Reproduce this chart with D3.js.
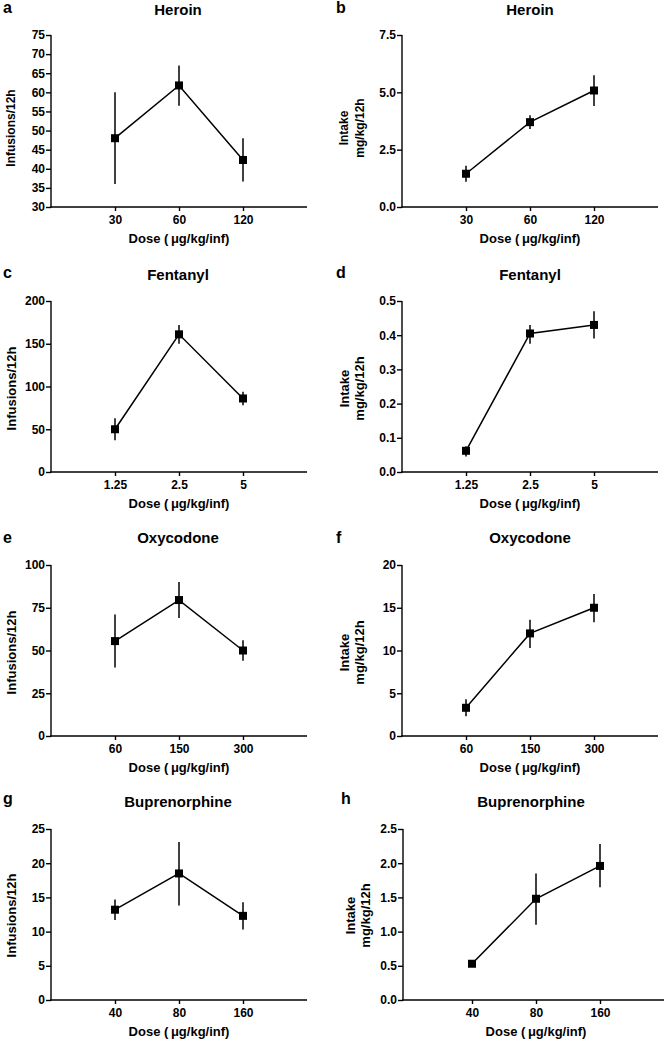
<!DOCTYPE html>
<html>
<head>
<meta charset="utf-8">
<script src="https://cdn.jsdelivr.net/npm/d3@7"></script>
<style>
  html, body { margin: 0; padding: 0; background: #fff; }
  svg text { font-family: "Liberation Sans", Arial, Helvetica, sans-serif; font-weight: bold; fill: #000; }
</style>
</head>
<body>
<svg id="chart" width="668" height="1043"></svg>
<script>
// ---------------- DATA ----------------
const drugs = ["Heroin", "Fentanyl", "Oxycodone", "Buprenorphine"];
const doseLabels = [
  ["30", "60", "120"],
  ["1.25", "2.5", "5"],
  ["60", "150", "300"],
  ["40", "80", "160"]
];
// Infusions / 12h (left column)
const infusionsMean = [[48, 61.8, 42.3], [50, 161, 86], [55.5, 79.5, 50], [13.2, 18.5, 12.3]];
const infusionsLow  = [[36, 56.5, 36.7], [37, 150, 78], [40, 69, 44], [11.7, 13.8, 10.3]];
const infusionsHigh = [[60, 67, 48], [63, 172, 94], [71, 90, 56], [14.7, 23.1, 14.3]];
// Intake mg/kg/12h (right column)
const intakeMean = [[1.45, 3.7, 5.08], [0.062, 0.405, 0.43], [3.3, 12, 15], [0.53, 1.48, 1.96]];
const intakeLow  = [[1.1, 3.4, 4.4], [0.045, 0.375, 0.39], [2.3, 10.3, 13.3], [0.5, 1.1, 1.65]];
const intakeHigh = [[1.8, 4.0, 5.75], [0.075, 0.43, 0.47], [4.3, 13.6, 16.6], [0.56, 1.85, 2.28]];
// Tick labels
const infusionsTicks = [[30, 35, 40, 45, 50, 55, 60, 65, 70, 75], [0, 50, 100, 150, 200], [0, 25, 50, 75, 100], [0, 5, 10, 15, 20, 25]];
const intakeTicks = [[0, 2.5, 5.0, 7.5], [0, 0.1, 0.2, 0.3, 0.4, 0.5], [0, 5, 10, 15, 20], [0, 0.5, 1.0, 1.5, 2.0, 2.5]];
const intakeTickFormat = [".1f", ".1f", "d", ".1f"];
const panelLetters = [["a", "b"], ["c", "d"], ["e", "f"], ["g", "h"]];
const xTitle = "Dose (\u2009\u03bcg/kg/inf)";
const yTitleLeft = "Infusions/12h";
const yTitleRight = ["Intake", "mg/kg/12h"];

// ---------------- LAYOUT ----------------
const rows = [
  { top: 35, bot: 207, titleY: 15, letterY: 13, yTitleShift: 7, ytFont: 12 },
  { top: 301, bot: 472, titleY: 280, letterY: 278, yTitleShift: 2, ytFont: 13 },
  { top: 565, bot: 736, titleY: 543, letterY: 543, yTitleShift: 2, ytFont: 13 },
  { top: 829, bot: 1000, titleY: 807, letterY: 804, yTitleShift: 1, ytFont: 13 }
];
const cols = [
  { ax: 51, sx: 51, letterX: 3, titleX: 178 },
  { ax: 402, sx: 402, letterX: 336, titleX: 530 }
];

const svg = d3.select("#chart");

function panel(r, c) {
  const row = rows[r];
  let col = Object.assign({}, cols[c]);
  if (r === 3 && c === 1) { col.ax = 403; col.sx = 408; col.letterX = 341; col.titleX = 531; }
  const mean = c === 0 ? infusionsMean[r] : intakeMean[r];
  const lo = c === 0 ? infusionsLow[r] : intakeLow[r];
  const hi = c === 0 ? infusionsHigh[r] : intakeHigh[r];
  const ticks = c === 0 ? infusionsTicks[r] : intakeTicks[r];
  const fmt = c === 0 ? d3.format("d") : d3.format(intakeTickFormat[r]);

  const x = d3.scaleLinear().domain([0, 4]).range([col.sx, col.sx + 256]);
  const y = d3.scaleLinear().domain([ticks[0], ticks[ticks.length - 1]]).range([row.bot, row.top]);

  const g = svg.append("g");

  // letter & title
  g.append("text").attr("x", col.letterX).attr("y", row.letterY)
    .style("font-size", "16px").text(panelLetters[r][c]);
  g.append("text").attr("x", col.titleX).attr("y", row.titleY)
    .attr("text-anchor", "middle").style("font-size", "15px").text(drugs[r]);

  // Y axis
  const yAxis = d3.axisLeft(y).tickValues(ticks).tickFormat(fmt).tickSize(5).tickSizeOuter(0).tickPadding(1);
  const yg = g.append("g").attr("transform", `translate(${col.ax},0)`).call(yAxis);
  yg.select(".domain").remove();
  yg.selectAll("line").attr("stroke", "#000").attr("stroke-width", 1.4);
  yg.selectAll("text").style("font-size", "12px").style("font-family", '"Liberation Sans", Arial, sans-serif').style("font-weight", "bold");

  // X axis
  const xAxis = d3.axisBottom(x).tickValues([1, 2, 3]).tickFormat((d, i) => doseLabels[r][i]).tickSize(4).tickSizeOuter(0).tickPadding(4);
  const xg = g.append("g").attr("transform", `translate(0,${row.bot})`).call(xAxis);
  xg.select(".domain").remove();
  xg.selectAll("line").attr("stroke", "#000").attr("stroke-width", 1.4);
  xg.selectAll("text").style("font-size", "12px").style("font-family", '"Liberation Sans", Arial, sans-serif').style("font-weight", "bold");

  // axis lines
  g.append("line").attr("x1", col.ax).attr("x2", col.ax).attr("y1", row.top).attr("y2", row.bot + 0.7)
    .attr("stroke", "#000").attr("stroke-width", 1.4);
  g.append("line").attr("x1", col.ax - 0.7).attr("x2", x(4)).attr("y1", row.bot).attr("y2", row.bot)
    .attr("stroke", "#000").attr("stroke-width", 1.4);

  // axis titles
  g.append("text").attr("x", col.sx + 128).attr("y", row.bot + 36)
    .attr("text-anchor", "middle").style("font-size", "13px").text(xTitle);
  const cy = (row.top + row.bot) / 2 + row.yTitleShift;
  if (c === 0) {
    g.append("text").attr("transform", `translate(${col.ax - 40},${cy}) rotate(-90)`)
      .attr("text-anchor", "middle").attr("dominant-baseline", "central")
      .style("font-size", row.ytFont + "px").text(yTitleLeft);
  } else {
    yTitleRight.forEach((t, i) => {
      g.append("text").attr("transform", `translate(${col.sx - 58 + i * 15.5},${cy}) rotate(-90)`)
        .attr("text-anchor", "middle").attr("dominant-baseline", "central")
        .style("font-size", row.ytFont + "px").text(t);
    });
  }

  // data
  const pts = mean.map((m, i) => ({ x: i + 1, m, lo: lo[i], hi: hi[i] }));
  g.selectAll(".err").data(pts).enter().append("line")
    .attr("x1", d => x(d.x)).attr("x2", d => x(d.x))
    .attr("y1", d => y(d.lo)).attr("y2", d => y(d.hi))
    .attr("stroke", "#000").attr("stroke-width", 1.5);
  g.append("path").datum(pts)
    .attr("d", d3.line().x(d => x(d.x)).y(d => y(d.m)))
    .attr("fill", "none").attr("stroke", "#000").attr("stroke-width", 1.5);
  const s = 8;
  g.selectAll(".pt").data(pts).enter().append("rect")
    .attr("x", d => x(d.x) - s / 2).attr("y", d => y(d.m) - s / 2)
    .attr("width", s).attr("height", s).attr("fill", "#000");
}

for (let r = 0; r < 4; r++) for (let c = 0; c < 2; c++) panel(r, c);
</script>
</body>
</html>
